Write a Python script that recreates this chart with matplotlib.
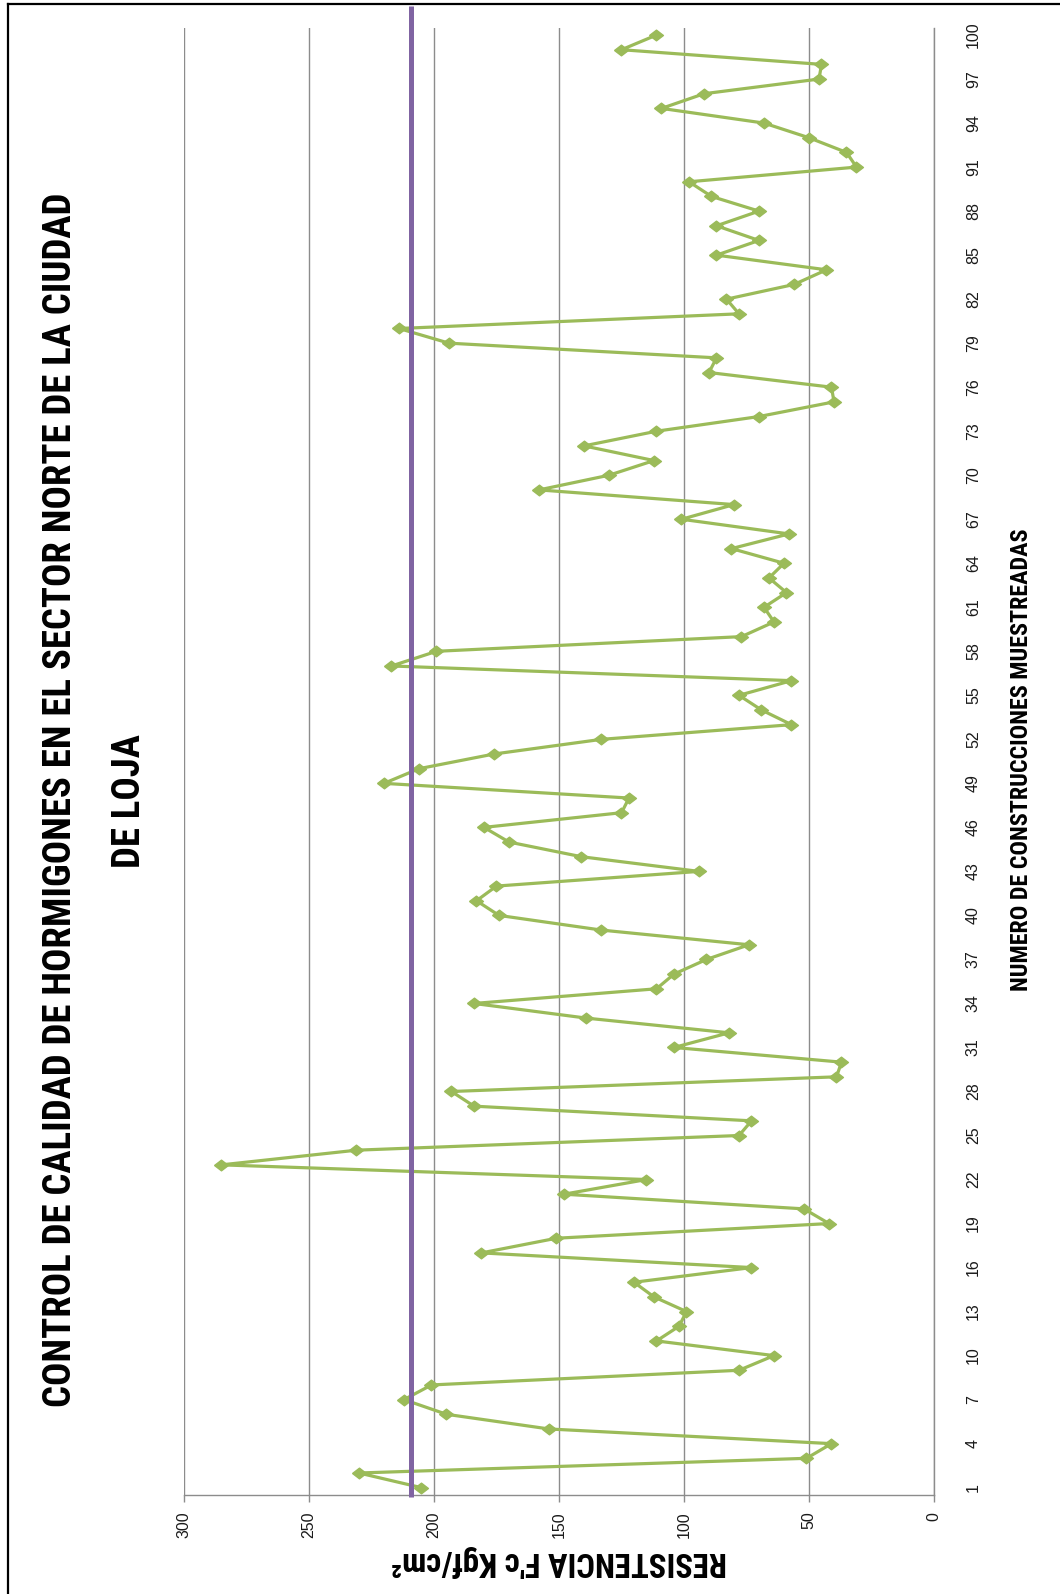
import numpy as np
import matplotlib
matplotlib.use("Agg")
import matplotlib.pyplot as plt
from matplotlib import font_manager
from matplotlib.font_manager import FontProperties

# --- data -------------------------------------------------------------
muestras = list(range(1, 101))
resistencia = [
    205, 230, 51, 41, 154, 195, 212, 201, 78, 64,
    111, 102, 99, 112, 120, 73, 181, 151, 42, 52,
    148, 115, 285, 231, 78, 73, 184, 193, 39, 37,
    104, 82, 139, 184, 111, 104, 91, 74, 133, 174,
    183, 175, 94, 141, 170, 180, 125, 122, 220, 206,
    176, 133, 57, 69, 78, 57, 217, 199, 77, 64,
    68, 59, 66, 60, 81, 58, 101, 80, 158, 130,
    112, 140, 111, 70, 40, 41, 90, 87, 194, 214,
    78, 83, 56, 43, 87, 70, 87, 70, 89, 98,
    31, 35, 50, 68, 109, 92, 46, 45, 125, 111,
]
fc_diseno = 209          # reference strength line (kgf/cm2)
valor_ticks = [0, 50, 100, 150, 200, 250, 300]
muestra_ticks = list(range(1, 101, 3))

# --- fonts ------------------------------------------------------------
base = "Liberation Sans"
plt.rcParams["font.family"] = [base, "DejaVu Sans"]


def _is_bold(f):
    w = f.weight
    if isinstance(w, str):
        return w.lower() in ("bold", "heavy", "black", "extra bold", "semibold", "demibold")
    return w >= 600


def _is_narrow(f):
    return ("Narrow" in f.name or "Condensed" in f.name or
            str(f.stretch).lower() in ("condensed", "semi-condensed", "extra-condensed")
            or (isinstance(f.stretch, int) and f.stretch < 500))


cands = [f for f in font_manager.fontManager.ttflist if _is_bold(f) and _is_narrow(f)]
prio = ["Liberation Sans Narrow", "Roboto Condensed", "Open Sans", "DejaVu Sans"]
cands.sort(key=lambda f: next((i for i, p in enumerate(prio) if p in f.name), 99))
if cands:
    bold_fp = FontProperties(fname=cands[0].fname)
else:
    bold_fp = FontProperties(family=base, weight="bold")

W, H = 1060, 1594
fig = plt.figure(figsize=(W / 100, H / 100), dpi=100)

# plot area in pixel coordinates
x0, x1 = 184, 934
y_top, y_bot = 27.7, 1495
ax = fig.add_axes([x0 / W, 1 - y_bot / H, (x1 - x0) / W, (y_bot - y_top) / H])

GREEN = "#9BBB59"
PURPLE = "#8064A2"
GRID = "#8C8C8C"

# value axis runs right-to-left, samples bottom-to-top
ax.set_xlim(300, 0)
ax.set_ylim(0.5, 100.5)

ax.set_xticks(valor_ticks)
ax.set_yticks(muestra_ticks)
ax.grid(axis="x", color=GRID, linewidth=1.0)
ax.set_axisbelow(True)

for s in ["top", "left"]:
    ax.spines[s].set_visible(False)
for s in ["bottom", "right"]:
    ax.spines[s].set_color(GRID)
    ax.spines[s].set_linewidth(1.0)

ax.yaxis.tick_right()
ax.tick_params(axis="y", length=0, pad=23, labelsize=11.5, labelrotation=90,
               labelcolor="#1a1a1a")
ax.tick_params(axis="x", length=5, width=1.0, color=GRID, pad=7, labelsize=11.5,
               labelrotation=90, labelcolor="#1a1a1a")
for lbl in ax.get_yticklabels():
    lbl.set_va("center")
    lbl.set_ha("left")

# diamond marker, slightly wider along the value axis
diamond = [(-1.3, 0), (0, 1), (1.3, 0), (0, -1), (-1.3, 0)]
ax.plot(resistencia, muestras, color=GREEN, linewidth=2.3, marker=diamond,
        markersize=10, markerfacecolor=GREEN, markeredgecolor=GREEN, zorder=3)

# design strength line
ax.plot([fc_diseno, fc_diseno], [0.36, 102.0], color=PURPLE, linewidth=3.6,
        clip_on=False, zorder=4, solid_capstyle="butt")

renderer = fig.canvas.get_renderer()


def fit_text(txt, length_px, vertical):
    """Scale the font size so the text spans the given pixel length."""
    bb = txt.get_window_extent(renderer)
    cur = bb.height if vertical else bb.width
    txt.set_fontsize(txt.get_fontsize() * length_px / cur)


def bold_text(x, y, s, rot, size):
    fp = bold_fp.copy()
    fp.set_size(size)
    return fig.text(x, y, s, rotation=rot, ha="center", va="center",
                    fontproperties=fp)


# axis titles
t_cat = bold_text(1021 / W, 1 - 760 / H, "NUMERO DE CONSTRUCCIONES MUESTREADAS", 90, 15)
fit_text(t_cat, 463, True)
t_val = bold_text(559 / W, 1 - 1561 / H, "RESISTENCIA F'c Kgf/cm²", 180, 17)
fit_text(t_val, 336, False)

# chart title
t1 = bold_text(61 / W, 1 - 800 / H,
               "CONTROL DE CALIDAD DE HORMIGONES EN EL SECTOR NORTE DE LA CIUDAD", 90, 24)
fit_text(t1, 1215, True)
t2 = bold_text(129 / W, 1 - 801 / H, "DE LOJA", 90, t1.get_fontsize())

# frame edges (left and top)
fig.add_artist(plt.Line2D([8 / W, 8 / W], [0, 1 - 4 / H], color="black",
                          linewidth=1.6, transform=fig.transFigure))
fig.add_artist(plt.Line2D([8 / W, 1], [1 - 4 / H, 1 - 4 / H], color="black",
                          linewidth=1.6, transform=fig.transFigure))

fig.savefig("out.png", dpi=100)
